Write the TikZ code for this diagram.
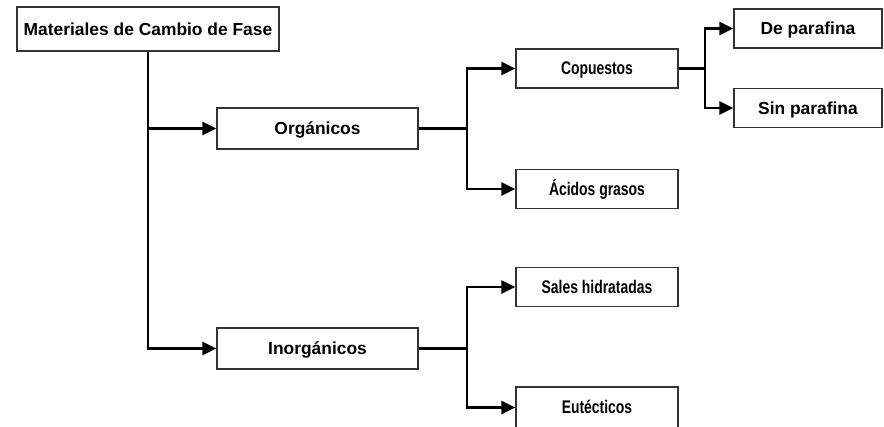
\documentclass[tikz,border=0pt]{standalone}
\usepackage{fontspec}
\usepackage{graphicx}
\setmainfont{Liberation Sans}
\usetikzlibrary{arrows.meta}
\begin{document}
\begin{tikzpicture}[x=1pt,y=-1pt]
        \tikzset{class box/.style={draw=black!80, line width=1.2pt, inner sep=0pt,
                     text height=12.4pt, text depth=0pt,
                     font=\fontsize{17.4}{20}\selectfont\bfseries},
                 wide box/.style={class box, minimum width=201pt, minimum height=41pt},
                 small box/.style={class box, minimum width=162pt, minimum height=39pt},
                 end box/.style={class box, minimum width=148pt, minimum height=39pt},
                 branch line/.style={draw=black, line width=2.8pt,
                     -{Triangle[length=14pt,width=13pt]}}}
        \newcommand{\narrow}[1]{\scalebox{0.8}[1.05]{#1}}

        \useasboundingbox (0,0) rectangle (884,426);

        \node[class box, minimum width=262pt, minimum height=44pt] (fase) at (148,29)
            {Materiales de Cambio de Fase};
        \node[wide box] (org) at (317.5,128.5) {Orgánicos};
        \node[wide box] (inorg) at (317.5,348.5) {Inorgánicos};
        \node[small box] (comp) at (597,68.5) {\narrow{Copuestos}};
        \node[small box] (acidos) at (597,189) {\narrow{Ácidos grasos}};
        \node[small box] (sales) at (597,287) {\narrow{Sales hidratadas}};
        \node[small box, minimum height=41pt] (eut) at (597,407.5) {\narrow{Eutécticos}};
        \node[end box] (conpar) at (808,28.5) {De parafina};
        \node[end box] (sinpar) at (808,108) {Sin parafina};

        \coordinate (orgsplit) at (467,128.5);
        \coordinate (inorgsplit) at (467,348.5);
        \coordinate (compsplit) at (705,68.5);

        \draw[branch line] (fase.south) |- (org.west);
        \draw[branch line] (fase.south) |- (inorg.west);
        \draw[branch line] (org.east) -- (orgsplit) |- (comp.west);
        \draw[branch line] (org.east) -- (orgsplit) |- (acidos.west);
        \draw[branch line] (inorg.east) -- (inorgsplit) |- (sales.west);
        \draw[branch line] (inorg.east) -- (inorgsplit) |- (eut.west);
        \draw[branch line] (comp.east) -- (compsplit) |- (conpar.west);
        \draw[branch line] (comp.east) -- (compsplit) |- (sinpar.west);
    \end{tikzpicture}
\end{document}
